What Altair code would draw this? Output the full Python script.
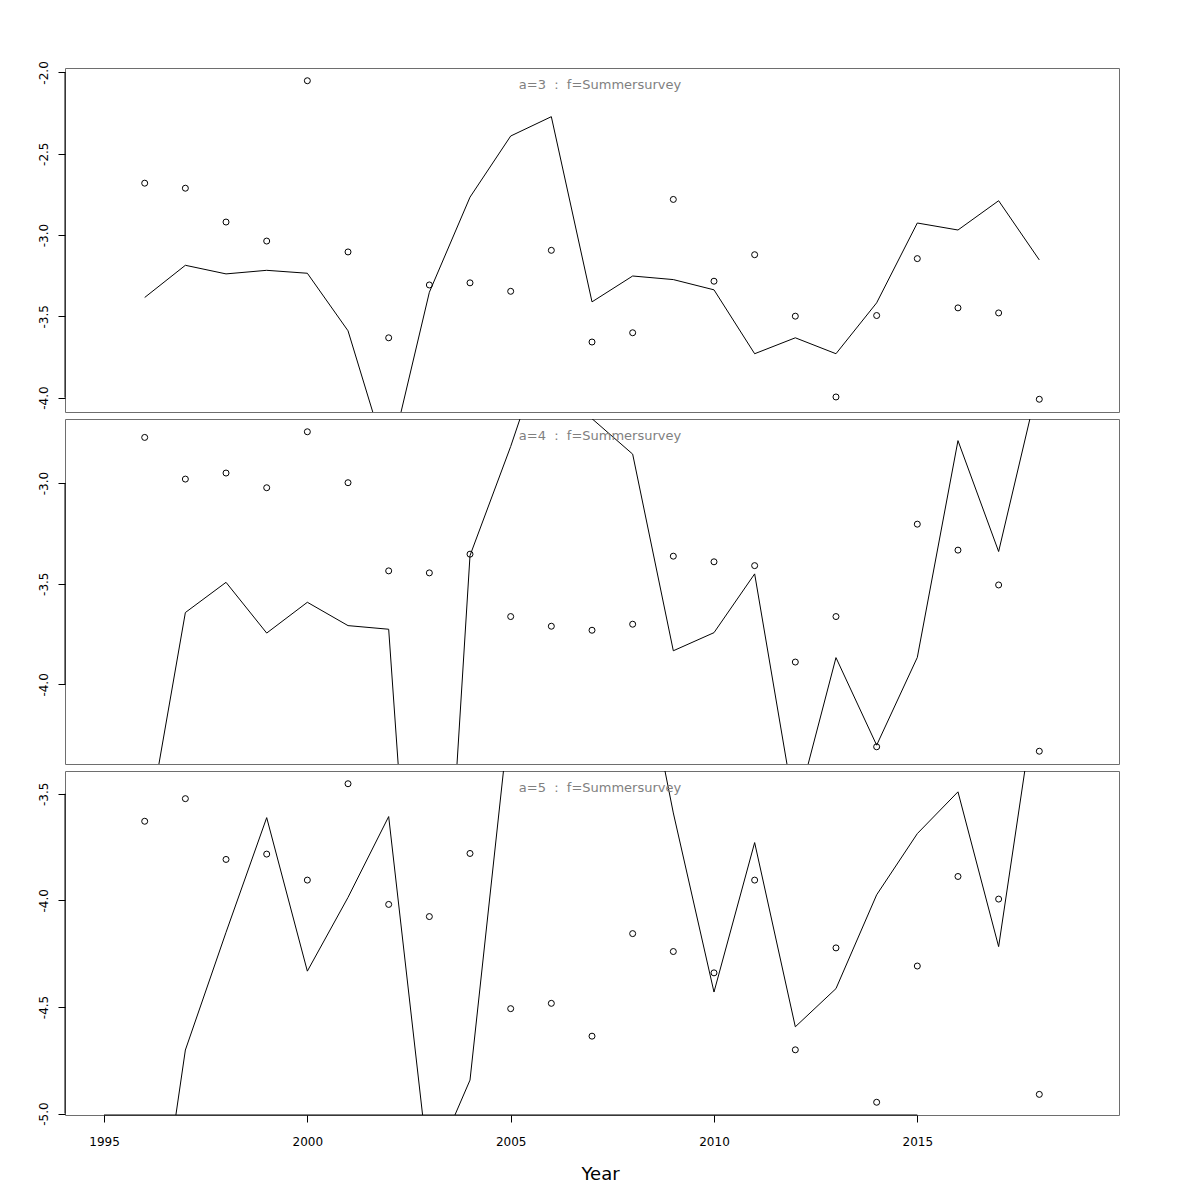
import altair as alt
import pandas as pd

years = list(range(1996, 2019))

obs_a3 = [-2.681, -2.712, -2.920, -3.037, -2.051, -3.104, -3.632, -3.307, -3.294, -3.346,
          -3.094, -3.658, -3.601, -2.781, -3.284, -3.121, -3.499, -3.996, -3.495, -3.145,
          -3.448, -3.479, -4.010]
pred_a3 = [-3.384, -3.186, -3.239, -3.217, -3.235, -3.589, -4.410, -3.352, -2.767, -2.391,
           -2.272, -3.411, -3.252, -3.274, -3.337, -3.730, -3.632, -3.730, -3.417, -2.926,
           -2.969, -2.789, -3.153]

obs_a4 = [-2.773, -2.980, -2.950, -3.023, -2.745, -2.998, -3.436, -3.446, -3.353, -3.663,
          -3.711, -3.731, -3.701, -3.363, -3.391, -3.410, -3.889, -3.663, -4.310, -3.204,
          -3.333, -3.506, -4.332]
pred_a4 = [-4.800, -3.643, -3.493, -3.745, -3.592, -3.708, -3.726, -6.600, -3.360, -2.818,
           -2.220, -2.680, -2.856, -3.833, -3.743, -3.451, -4.640, -3.867, -4.302, -3.866,
           -2.789, -3.340, -2.483]

obs_a5 = [-3.629, -3.523, -3.808, -3.783, -3.905, -3.453, -4.019, -4.076, -3.780, -4.508,
          -4.483, -4.637, -4.156, -4.240, -4.340, -3.905, -4.701, -4.223, -4.947, -4.308,
          -3.888, -3.994, -4.910]
pred_a5 = [-6.010, -4.702, -4.150, -3.612, -4.332, -3.986, -3.607, -5.285, -4.843, -3.081,
           -2.800, -2.700, -2.630, -3.590, -4.430, -3.729, -4.593, -4.414, -3.974, -3.687,
           -3.491, -4.217, -2.935]

ages = [3, 4, 5]
fleet = "Summersurvey"
y_ticks = {3: [-4.0, -3.5, -3.0, -2.5, -2.0], 4: [-4.0, -3.5, -3.0], 5: [-5.0, -4.5, -4.0, -3.5]}
x_ticks = [1995, 2000, 2005, 2010, 2015]
x_domain = [1994.04, 2019.96]

FONT = "DejaVu Sans"
W = 1054
NB = "\u00a0"


def panel(age, obs, pred, bottom, h):
    df = pd.DataFrame({"Year": years, "obs": obs, "pred": pred})
    lo, hi = min(obs), max(obs)
    r = hi - lo
    ydom = [lo - 0.04 * r, hi + 0.04 * r]
    xs = alt.Scale(domain=x_domain, nice=False, zero=False)
    ys = alt.Scale(domain=ydom, nice=False, zero=False)
    if bottom:
        xaxis = alt.Axis(values=x_ticks, format="d", title="Year", domain=False, grid=False,
                         tickSize=7, tickColor="black", labelPadding=14, labelFontSize=12,
                         labelColor="black", labelFont=FONT, titleFont=FONT, titleFontSize=18,
                         titleFontWeight="normal", titlePadding=18, titleColor="black",
                         titleX=535, titleAlign="center",
                         labelFlush=False, labelOverlap=False)
    else:
        xaxis = None
    ticks = y_ticks[age]
    yaxis = alt.Axis(values=ticks,
                     labelExpr="replace(format(datum.value, '.1f'), '\u2212', '-')",
                     domain=False, grid=False, tickSize=7, tickColor="black",
                     labelAngle=270, labelAlign="center", labelBaseline="alphabetic",
                     labelPadding=11, labelFontSize=12, labelFont=FONT, labelColor="black",
                     title=None, minExtent=40, maxExtent=40, labelOverlap=False)

    pts = alt.Chart(df).mark_point(shape="circle", filled=False, color="black", size=36,
                                   strokeWidth=1, opacity=1).encode(
        x=alt.X("Year:Q", scale=xs, axis=xaxis),
        y=alt.Y("obs:Q", scale=ys, axis=yaxis),
    )
    line = alt.Chart(df).mark_line(color="black", strokeWidth=1, clip=True).encode(
        x=alt.X("Year:Q", scale=xs, axis=xaxis),
        y=alt.Y("pred:Q", scale=ys, axis=yaxis),
    )
    yline_df = pd.DataFrame({"x": [x_domain[0]], "lo": [min(ticks)], "hi": [max(ticks)]})
    yline = alt.Chart(yline_df).mark_rule(color="black", strokeWidth=1).encode(
        x=alt.X("x:Q", scale=xs, axis=xaxis),
        y=alt.Y("lo:Q", scale=ys, axis=yaxis),
        y2="hi:Q",
    )
    label_df = pd.DataFrame({"t": [f"a={age}{NB}{NB}:{NB}{NB}f={fleet}"]})
    label = alt.Chart(label_df).mark_text(font=FONT, fontSize=13, color="#7f7f7f",
                                          align="center", baseline="alphabetic").encode(
        x=alt.value(535), y=alt.value(21), text="t:N"
    )
    layers = [line, pts, yline, label]
    if bottom:
        xline_df = pd.DataFrame({"x1": [min(x_ticks)], "x2": [max(x_ticks)], "y": [ydom[0]]})
        xline = alt.Chart(xline_df).mark_rule(color="black", strokeWidth=1).encode(
            x=alt.X("x1:Q", scale=xs, axis=xaxis),
            x2="x2:Q",
            y=alt.Y("y:Q", scale=ys, axis=yaxis),
        )
        layers.append(xline)
    return alt.layer(*layers).properties(
        width=W, height=h,
        view=alt.ViewBackground(stroke="#6e6e6e", strokeWidth=1),
    )


p3 = panel(3, obs_a3, pred_a3, False, 344)
p4 = panel(4, obs_a4, pred_a4, False, 345)
p5 = panel(5, obs_a5, pred_a5, True, 344)

chart = alt.vconcat(p3, p4, p5, spacing=5).properties(
    padding={"left": 16, "top": 52, "right": 5, "bottom": 5}
).configure_view(stroke="#6e6e6e", strokeWidth=1).configure(background="white")

chart.save("out.html", embed_options={"renderer": "svg", "actions": False})
